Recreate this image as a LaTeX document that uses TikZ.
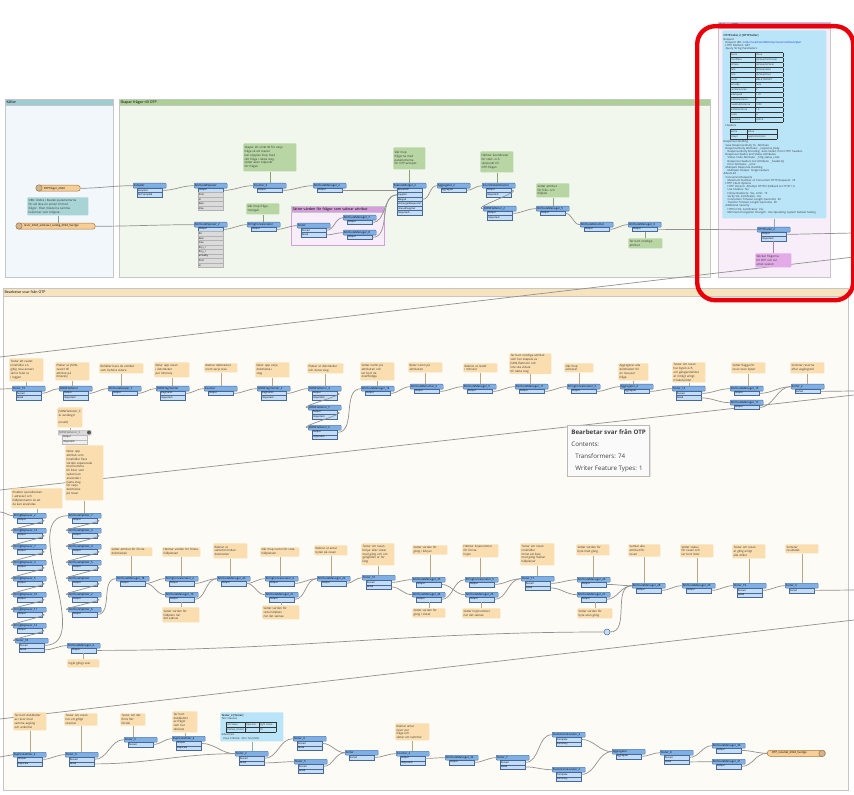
\documentclass[tikz,border=0pt]{standalone}
\usepackage{fontspec}
\setmainfont{Open Sans}
\usetikzlibrary{shadows}

\definecolor{tfhead}{RGB}{128,175,228}
\definecolor{tfport}{RGB}{196,220,244}
\definecolor{tfedge}{RGB}{70,105,155}
\definecolor{wirecol}{RGB}{145,145,145}
\definecolor{annor}{RGB}{250,222,176}
\definecolor{anngr}{RGB}{184,214,164}
\definecolor{anntl}{RGB}{168,212,214}
\definecolor{annbl}{RGB}{186,228,248}
\definecolor{annpk}{RGB}{226,170,230}
\definecolor{rdrcol}{RGB}{246,206,150}
\definecolor{rdredge}{RGB}{170,120,60}
\definecolor{bmKbg}{RGB}{241,247,251}
\definecolor{bmKhd}{RGB}{158,206,212}
\definecolor{bmGbg}{RGB}{242,247,238}
\definecolor{bmGhd}{RGB}{170,208,148}
\definecolor{bmPbg}{RGB}{248,238,249}
\definecolor{bmPhd}{RGB}{214,158,220}
\definecolor{bmBbg}{RGB}{253,251,245}
\definecolor{bmBhd}{RGB}{247,228,190}
\definecolor{linkblue}{RGB}{20,60,220}
\definecolor{markred}{RGB}{232,0,10}

\begin{document}
\begin{tikzpicture}[x=0.5pt, y=-0.5pt,
    tf/.style={draw=tfedge, fill=tfhead, line width=0.2pt, rounded corners=0.4pt,
      anchor=north west, inner sep=0.3pt, minimum width=16.5pt, minimum height=2.5pt,
      text width=15.9pt, font=\fontsize{1.4}{1.6}\selectfont},
    tfoff/.style={tf, draw=gray!60, fill=gray!30, text=gray!60!black},
    port/.style={draw=tfedge, fill=tfport, line width=0.15pt, anchor=north west,
      inner sep=0.3pt, minimum width=12.5pt, minimum height=2.25pt,
      text width=11.9pt, font=\fontsize{1.2}{1.4}\selectfont},
    portoff/.style={port, draw=gray!55, fill=gray!12},
    attr/.style={port, draw=gray!60, fill=gray!28},
    wire/.style={draw=wirecol, line width=0.35pt},
    ann/.style={anchor=north west, inner sep=0.6pt, rounded corners=0.4pt,
      font=\fontsize{1.45}{1.9}\selectfont, text=black!80, align=left},
    anntail/.style={draw=#1!75!black, line width=0.4pt},
    rdr/.style={anchor=north west, fill=rdrcol, draw=rdredge, line width=0.25pt,
      rounded corners=1.4pt, inner sep=0.3pt, minimum height=3pt,
      font=\fontsize{1.4}{1.6}\selectfont, align=left},
    rdricon/.style={circle, fill=rdredge!55, draw=rdredge, line width=0.25pt,
      minimum size=3.2pt, inner sep=0pt},
    bm/.style={anchor=north west, draw=gray!45, line width=0.3pt, inner sep=0pt},
    bmhead/.style={anchor=north west, draw=gray!45, line width=0.3pt, inner sep=0.6pt,
      minimum height=3pt, font=\fontsize{1.8}{2}\selectfont, align=left},
    tip/.style={anchor=north west, draw=gray!55, fill=gray!4, line width=0.4pt,
      inner xsep=2pt, inner ysep=2pt, align=left, text=black!75,
      font=\fontsize{3.1}{6}\selectfont,
      drop shadow={opacity=0.2, shadow xshift=0.7pt, shadow yshift=-0.7pt}}]

  \useasboundingbox (0,0) rectangle (854,795);
  \fill[white] (0,0) rectangle (854,795);

  % bookmarks
  \node[bm, fill=bmKbg, minimum width=54pt, minimum height=89pt] (bmK) at (5,99) {};
  \node[bmhead, fill=bmKhd, text width=52.8pt] (bmK-h) at (5,99) {Källor};
  \node[bm, fill=bmGbg, minimum width=295.5pt, minimum height=89pt] (bmG) at (119,99) {};
  \node[bmhead, fill=bmGhd, text width=294.3pt] (bmG-h) at (119,99) {Skapar frågor till OTP};
  \node[bm, fill=bmPbg, draw=bmPhd, minimum width=46.5pt, minimum height=19.5pt] (bmP) at (291,206) {};
  \node[bmhead, fill=bmPhd, text width=45.3pt] (bmP-h) at (291,206) {Sätter värden för frågor som saknar attribut};
  \node[bm, fill=bmPbg, minimum width=56pt, minimum height=127.5pt] (bmR) at (718,22) {};
  \node[bmhead, fill=bmPhd, text width=54.8pt] (bmR-h) at (718,22) {Frågar OTP};
  \node[bm, fill=bmBbg, minimum width=422.5pt, minimum height=251pt] (bmB) at (3,288) {};
  \node[bmhead, fill=bmBhd, minimum height=4pt, text width=421.3pt] (bmB-h) at (3,288) {Bearbetar svar från OTP};

  % long wires leaving and entering the view
  \coordinate (eT) at (854,233);
  \coordinate (e1r) at (854,257);
  \coordinate (e1l) at (0,357);
  \coordinate (lA) at (0,389);
  \coordinate (rA) at (854,391);
  \coordinate (e2r) at (854,395);
  \coordinate (e2l) at (0,490);
  \coordinate (lB) at (0,512);
  \coordinate (rB) at (854,590);
  \coordinate (e3r) at (854,620);
  \coordinate (e3l) at (0,719);
  \coordinate (lC) at (0,757);
  \draw[wire] (e1r) -- (e1l);
  \draw[wire] (e2r) -- (e2l);
  \draw[wire] (e3r) -- (e3l);

  % readers
  \node[rdr, minimum width=22pt, text width=21.4pt] (r1) at (36,185) {\hspace*{3.5pt}OTPfrågor\_2024};
  \node[rdricon] (r1-i) at (39,188) {};
  \node[rdr, minimum width=39.5pt, text width=38.9pt] (r2) at (16,223) {\hspace*{3.5pt}resor\_2024\_adresser\_salsbg\_2024\_Sverige};
  \node[rdricon] (r2-i) at (19,226) {};

  % transformers, top
  \foreach \n/\x/\y/\lab/\ports in {
      t1/133/183/Sampler/{Sampled,Not Sampled},
      t2/194/183/AttributeExposer/{Output},
      t3/253/183/Counter\_3/{Output},
      t4/313/183/AttributeManager\_2/{Output},
      t5/393/183/FeatureMerger\_2/{Requestor,Supplier,Merged,UnmergedRequestor,UnusedSupplier,<Rejected>},
      t6/194/222/AttributeExposer\_2/{Output},
      t7/247/222/StringConcatenator/{Output},
      t8/297/223/Tester/{Passed,Failed},
      t9/343/215/AttributeManager\_7/{Output},
      t10/343/230/AttributeManager\_8/{Output},
      t11/437/183/Aggregator\_2/{Aggregate},
      t12/482/183/CoordinateExtractor/{Output,<Rejected>},
      t13/483/206/JSONFlattener\_2/{Output,<Rejected>},
      t14/536/206/AttributeManager\_5/{Output},
      t15/580/222/AttributeRenamer/{Output},
      t16/628/222/AttributeManager\_3/{Output},
      h1/757/227/HTTPCaller\_2/{Output,<Rejected>}} {
    \node[tf] (\n) at (\x,\y) {\lab};
    \foreach \pl [count=\p] in \ports
      \node[port] (\n-\p) at (\x+4,{\y+0.5+4.5*\p}) {\pl};
  }
  \foreach \n/\x/\y/\attrs in {
      t2/194/192.5/{from,to,date,time},
      t6/194/231.5/{fid,date,time,fid\_x\_1,fid\_y\_1,arriveBy,from,to}}
    \foreach \al [count=\q] in \attrs
      \node[attr] (\n-a\q) at (\x+4,{\y+4.5*(\q-1)}) {\al};

  % transformers, row 1 of the bottom bookmark
  \foreach \n/\x/\y/\lab/\ports in {
      a1/12/386/Tester\_10/{Passed,Failed},
      a2/59/386/JSONFlattener/{Output,<Rejected>},
      a3/108/386/AttributeKeeper\_7/{Output},
      a4/156/386/JSONFragmenter/{Fragments,<Rejected>},
      a5/204/386/Counter/{Output},
      a6/257/386/JSONFragmenter\_2/{Fragments,<Rejected>},
      a7/308/386/JSONFlattener\_4/{Output,<Rejected>},
      a7b/308/405/JSONFlattener\_5/{Output,<Rejected>},
      a7c/308/425/JSONFlattener\_6/{Output,<Rejected>},
      a8/361/386/AttributeManager\_14/{Output},
      a9/410/384/AttributeRenamer\_2/{Output},
      a10/463/384/AttributeManager\_9/{Output},
      a11/515/384/AttributeManager\_11/{Output},
      a12/567/384/StringConcatenator\_3/{Output},
      a13/620/384/Aggregator\_4/{Aggregate},
      a14/672/386/Tester\_14/{Passed,Failed},
      a15/730/386/AttributeManager\_16/{Output},
      a15b/730/400/AttributeManager\_17/{Output},
      a16/791/384/Sorter\_2/{Sorted}} {
    \node[tf] (\n) at (\x,\y) {\lab};
    \foreach \pl [count=\p] in \ports
      \node[port] (\n-\p) at (\x+4,{\y+0.5+4.5*\p}) {\pl};
  }
  % disabled one
  \node[tfoff] (a2x) at (58,430) {JSONFlattener\_3};
  \node[portoff] (a2x-1) at (62,435) {Output};
  \node[portoff] (a2x-2) at (62,439.5) {<Rejected>};
  \node[circle, fill=black!65, inner sep=0pt, minimum size=2pt] (a2x-i) at (89,432.5) {};

  % transformers, row 2
  \foreach \n/\x/\y/\lab/\ports in {
      s1/13/513/StringReplacer\_2/{Output},
      s2/13/528/StringReplacer\_14/{Output},
      s3/13/544/StringReplacer\_7/{Output},
      s4/13/560/StringReplacer\_3/{Output},
      s5/13/576/StringReplacer\_5/{Output},
      s6/13/592/StringReplacer\_10/{Output},
      s7/13/607/StringReplacer\_11/{Output},
      s8/13/623/StringReplacer\_12/{Output},
      s9/15/638/Tester\_18/{Passed,Failed},
      p1/68/513/AttributeSplitter\_7/{Output},
      p2/68/528/AttributeSplitter\_3/{Output},
      p3/68/544/AttributeSplitter\_4/{Output},
      p4/68/560/AttributeSplitter\_5/{Output},
      p5/68/576/AttributeSplitter/{Output},
      p6/68/592/AttributeSplitter\_2/{Output},
      p7/68/607/AttributeSplitter\_6/{Output},
      m1/67/643/AttributeManager\_4/{Output},
      b1/116/576/AttributeManager\_18/{Output},
      b2/165/576/StringConcatenator\_2/{Output},
      b2b/165/592/AttributeManager\_19/{Output},
      b3/217/576/AttributeManager\_20/{Output},
      b4/265/576/StringConcatenator\_4/{Output},
      b4b/265/592/AttributeManager\_21/{Output},
      b5/317/576/AttributeManager\_22/{Output},
      b6/362/575/Tester\_16/{Passed,Failed},
      b7/412/577/AttributeManager\_23/{Output},
      b7b/412/592/AttributeManager\_24/{Output},
      b8/465/577/StringConcatenator\_5/{Output},
      b8b/465/592/AttributeManager\_25/{Output},
      b9/521/576/Tester\_17/{Passed,Failed},
      b10/577/577/AttributeManager\_26/{Output},
      b10b/577/592/AttributeManager\_27/{Output},
      b11/632/583/AttributeManager\_28/{Output},
      b12/682/583/AttributeManager\_29/{Output},
      b13/733/583/Tester\_19/{Passed,Failed},
      b14/785/583/Sorter\_3/{Sorted}} {
    \node[tf] (\n) at (\x,\y) {\lab};
    \foreach \pl [count=\p] in \ports
      \node[port] (\n-\p) at (\x+4,{\y+0.5+4.5*\p}) {\pl};
  }
  \node[circle, draw=tfedge, fill=tfport, line width=0.25pt, minimum size=3pt, inner sep=0pt] (j1) at (607,632) {};

  % transformers, row 3
  \foreach \n/\x/\y/\lab/\ports in {
      c1/13/752/DuplicateFilter\_2/{Unique,Duplicate},
      c2/65/752/Tester\_9/{Passed,Failed},
      c3/124/737/Tester\_3/{Passed},
      c4/172/736/DuplicateFilter\_4/{Unique,Duplicate},
      c5/235/751/Tester\_2/{Passed,Failed},
      c6/293/736/Tester\_4/{Passed,Failed},
      c6b/294/759/Tester\_5/{Passed,Failed},
      c7/345/750/Sorter/{Sorted},
      c8/396/751/Counter\_2/{Output,<Rejected>},
      c9/445/755/AttributeManager\_32/{Output},
      c10/496/755/Tester\_7/{Passed,Failed},
      c11/552/732/StatisticsCalculator\_2/{Complete,Summary},
      c11b/552/767/StatisticsCalculator\_3/{Complete,Summary},
      c12/612/749/Aggregator/{Aggregate},
      c13/660/750/Tester\_8/{Passed,Failed},
      c14/712/743/AttributeManager\_30/{Output},
      c14b/712/759/AttributeManager\_31/{Output}} {
    \node[tf] (\n) at (\x,\y) {\lab};
    \foreach \pl [count=\p] in \ports
      \node[port] (\n-\p) at (\x+4,{\y+0.5+4.5*\p}) {\pl};
  }
  % writer
  \node[rdr, minimum width=29pt, text width=28.4pt] (w1) at (767,750) {\hspace*{2pt}OTP\_resultat\_2024\_Sverige};
  \node[rdricon] (w1-i) at (822,753.5) {};

  % connections
  \foreach \src/\dst in {r1/t1, t1-1/t2, t2-1/t3, t3-1/t4, t4-1/t5-1, t9-1/t5-2,
      t10-1/t5-2, r2/t6, t6-1/t7, t7-1/t8, t8-1/t9, t8-2/t10, t5-3/t11, t11-1/t12,
      t12-1/t13, t13-1/t14, t14-1/t15, t15-1/t16, t16-1/h1,
      a1-1/a2, a2-1/a3, a3-1/a4, a4-1/a5, a5-1/a6, a6-1/a7, a7-1/a7b, a7b-1/a7c,
      a7c-1/a8, a8-1/a9, a9-1/a10, a10-1/a11, a11-1/a12, a12-1/a13, a13-1/a14,
      a14-1/a15, a14-2/a15b, a15-1/a16, a15b-1/a16,
      s1-1/s2, s2-1/s3, s3-1/s4, s4-1/s5, s5-1/s6, s6-1/s7, s7-1/s8, s8-1/s9,
      s9-1/p1, s9-2/m1, p1-1/p2, p2-1/p3, p3-1/p4, p4-1/p5, p5-1/p6, p6-1/p7,
      p7-1/b1, b1-1/b2, b1-1/b2b, b2-1/b3, b2b-1/b3, b3-1/b4, b3-1/b4b, b4-1/b5,
      b4b-1/b5, b5-1/b6, b6-1/b7, b6-2/b7b, b7-1/b8b, b7b-1/b8, b8-1/b9, b8b-1/b9,
      b9-1/b10, b9-2/b10b, b10-1/b11, b10b-1/b11, m1-1/j1, j1/b11, b11-1/b12,
      b12-1/b13, b13-1/b14,
      c1-1/c2, c2-1/c3, c2-2/c5, c3-1/c4, c4-1/c5, c5-1/c6, c5-2/c6b, c6-1/c7,
      c6b-1/c7, c7-1/c8, c8-1/c9, c9-1/c10, c10-1/c11, c10-2/c11b, c11-1/c12,
      c11b-1/c12, c12-1/c13, c13-1/c14, c13-2/c14b, c14-1/w1, c14b-1/w1}
    \draw[wire] (\src.east) to[out=0,in=180] (\dst.west);
  \draw[wire] (h1-1.east) -- (eT);
  \draw[wire] (a16-1.east) -- (rA);
  \draw[wire] (b14-1.east) -- (rB);
  \draw[wire] (lA) to[out=0,in=180] (a1.west);
  \draw[wire] (lB) to[out=0,in=180] (s1.west);
  \draw[wire] (lC) -- (c1.west);

  % annotations, orange
  \foreach \n/\x/\y/\w/\h/\txt in {
      n1/9/358/34/23/{Testar att svaret\\ innehåller en\\ giltig resa annars\\ skrivs felet ut\\ i loggen},
      n2/55/362/34/18/{Plattar ut JSON-\\ svaret till\\ attribut på\\ itinerary},
      n2x/57/407/25/20/{JSONFlattener\_3\\ är avstängd\\ \mbox{}\\ (ersatt)},
      n3/99/363/44/10/{Behåller bara de attribut\\ som behövs vidare},
      n4/154/362/35/15/{Delar upp resan\\ i delsträckor\\ per itinerary},
      n5/204/363/33/9/{Räknar delsträckor\\ inom varje resa},
      n6/255/362/34/15/{Delar upp varje\\ delsträcka i\\ steg},
      n7/307/363/36/10/{Plattar ut delsträckor\\ och deras steg},
      n8/360/362/34/18/{Sätter namn på\\ attributen och\\ tar bort de\\ överflödiga},
      n9/408/362/34/10/{Byter namn på\\ attributen},
      n10/463/363/34/9/{Räknar ut restid\\ i minuter},
      n11/509/353/42/20/{Tar bort onödiga attribut\\ som har skapats av\\ JSON-flattnern och\\ inte ska vidare\\ till nästa steg},
      n12/564/363/29/9/{Slår ihop\\ adresser},
      n13/618/363/30/17/{Aggregerar alla\\ delsträckor till\\ en resa per\\ fråga},
      n14/672/362/33/20/{Testar om resan\\ har byten och\\ om gångavståndet\\ är rimligt enligt\\ tröskelvärdet},
      n15/731/362/34/11/{Sätter flagga för\\ resor utan byten},
      n16/790/362/34/11/{Sorterar resorna\\ efter avgångstid},
      m0a/11/488/51/20/{Ersätter specialtecken\\ i adresser och\\ hållplatsnamn så att\\ de kan användas},
      m0b/65/445/38/55/{Delar upp\\ attribut som\\ innehåller flera\\ värden separerade\\ med komma\\ till listor som\\ sedan kan\\ användas i\\ nästa steg\\ för varje\\ delsträcka\\ på resan},
      m1n/67/659/32/8/{Inget giltigt svar},
      b1n/110/547/42/8/{Sätter attribut för första\\ delsträckan},
      b2n/162/547/38/8/{Hämtar värden för första\\ hållplatsen},
      b2bn/162/607/37/15/{Sätter värden för\\ hållplats när\\ det saknas},
      b3n/213/543/34/15/{Räknar ut\\ väntetid mellan\\ delsträckor},
      b4n/260/547/39/8/{Slår ihop namn för sista\\ hållplatsen},
      b4bn/262/605/37/14/{Sätter värden för\\ sista hållplats\\ när det saknas},
      b5n/314/545/33/10/{Räknar ut antal\\ byten på resan},
      b6n/361/543/33/22/{Testar om resan\\ börjar eller slutar\\ med gång och om\\ gångtiden är för\\ lång},
      b7n/412/545/35/8/{Sätter värden för\\ gång i början},
      b7bn/412/608/33/9/{Sätter värden för\\ gång i slutet},
      b8n/462/544/36/11/{Hämtar linjenummer\\ för första\\ linjen},
      b8bn/462/608/38/10/{Sätter linjenummer\\ när det saknas},
      b9n/520/543/34/22/{Testar om resan\\ innehåller\\ minst ett byte\\ med gång mellan\\ hållplatser},
      b10n/576/544/33/11/{Sätter värden för\\ byte med gång},
      b10bn/577/608/35/10/{Sätter värden för\\ byte utan gång},
      b11n/628/544/32/11/{Samlar alla\\ attribut för\\ resan},
      b12n/680/544/33/13/{Sätter status\\ för resan och\\ tar bort listor},
      b13n/732/544/33/14/{Testar om resan\\ är giltig enligt\\ alla villkor},
      b14n/785/544/33/9/{Sorterar\\ resultatet},
      c1n/13/712/33/18/{Tar bort dubbletter\\ av resor med\\ samma avgång\\ och ankomst},
      c2n/64/713/33/12/{Testar om resan\\ har ett giltigt\\ resultat},
      c3n/120/713/25/12/{Testar om det\\ finns fler\\ försök},
      c4n/172/711/25/21/{Tar bort\\ dubbletter\\ av frågor\\ som har\\ skickats},
      c8n/395/723/34/17/{Räknar antal\\ resor per\\ fråga och\\ sätter ett nummer}}
    \node[ann, fill=annor, minimum width=\w*0.5pt, minimum height=\h*0.5pt,
      text width=\w*0.5pt-1.2pt] (\n) at (\x,\y) {\txt};

  % annotations, green and others
  \foreach \n/\x/\y/\w/\h/\txt in {
      gA1/243/143/53/28/{Skapar ett unikt ID för varje\\ fråga så att svaren\\ kan kopplas ihop med\\ rätt fråga i nästa steg.\\ Sätter även tidpunkt\\ för frågan},
      gA2/246/203/33/11/{Slår ihop fråge-\\ strängen},
      gA3/393/147/32/22/{Slår ihop\\ frågorna med\\ parametrarna\\ för OTP-anropet},
      gA4/480/151/33/21/{Hämtar koordinater\\ för start- och\\ slutpunkt till\\ OTP-frågan},
      gA5/536/183/33/14/{Sätter attribut\\ för från- och\\ tillplats},
      gA6/628/238/34/10/{Tar bort onödiga\\ attribut}}
    \node[ann, fill=anngr, minimum width=\w*0.5pt, minimum height=\h*0.5pt,
      text width=\w*0.5pt-1.2pt] (\n) at (\x,\y) {\txt};
  \node[ann, fill=anntl, minimum width=30.5pt, minimum height=9pt, text width=29.3pt] (kA1) at (27,197)
    {OBS: Ändra i Reader-parametrarna\\ för att läsa en annan fil med\\ frågor. Filen måste ha samma\\ kolumner som tidigare.};
  \node[ann, fill=annpk, minimum width=18pt, minimum height=7pt, text width=16.8pt] (pA2) at (755,253)
    {Skickar frågorna\\ till OTP och tar\\ emot svaren};

  % summary annotation of the HTTPCaller
  \node[ann, fill=annbl, minimum width=52pt, minimum height=94pt, text width=50.8pt,
      font=\fontsize{1.35}{1.6}\selectfont] (hA) at (722,30) {%
    \textbf{HTTPCaller\_2 [HTTPCaller]}\\
    Request\\
    \hspace*{1pt}Request URL: {\color{linkblue}http://localhost:8080/otp/routers/default/plan}\\
    \hspace*{1pt}HTTP Method: GET\\
    \hspace*{1pt}Query String Parameters\\
    \hspace*{3pt}{\fontsize{1.2}{1.6}\selectfont\setlength\tabcolsep{0.4pt}%
      \setlength\arrayrulewidth{0.1pt}\renewcommand\arraystretch{1.5}%
      \begin{tabular}{|p{12pt}|p{13pt}|}\hline
      Name & Value\\\hline
      fromPlace & @Value(fromPlace)\\\hline
      toPlace & @Value(toPlace)\\\hline
      date & @Value(date)\\\hline
      time & @Value(time)\\\hline
      mode & WALK,TRANSIT\\\hline
      arriveBy & false\\\hline
      numItineraries & 3\\\hline
      walkSpeed & 1.33\\\hline
      walkReluctance & 2\\\hline
      maxWalkDistance & 1000\\\hline
      waitReluctance & 1.5\\\hline
      locale & sv\\\hline
      optimize & QUICK\\\hline
      \end{tabular}}\\
    \hspace*{1pt}Headers\\
    \hspace*{3pt}{\fontsize{1.2}{1.6}\selectfont\setlength\tabcolsep{0.4pt}%
      \setlength\arrayrulewidth{0.1pt}\renewcommand\arraystretch{1.5}%
      \begin{tabular}{|p{8pt}|p{14pt}|}\hline
      Name & Value\\\hline
      Accept & application/json\\\hline
      \end{tabular}}\\
    Response Handling\\
    \hspace*{1pt}Save Response Body To: Attribute\\
    \hspace*{1pt}Response Body Attribute: \_response\_body\\
    \hspace*{2pt}Response Body Encoding: Auto Detect from HTTP headers\\
    \hspace*{1pt}Response Header and Status Attributes\\
    \hspace*{2pt}Status Code Attribute: \_http\_status\_code\\
    \hspace*{2pt}Response Headers List Attribute: \_headers\{\}\\
    \hspace*{2pt}Error Attribute: \_error\\
    \hspace*{1pt}Multipart Response Handling\\
    \hspace*{2pt}Multipart Output: Single Feature\\
    Advanced\\
    \hspace*{1pt}Concurrent Requests\\
    \hspace*{2pt}Maximum Number of Concurrent HTTP Requests: 25\\
    \hspace*{1pt}HTTP Client Options\\
    \hspace*{2pt}HTTP Version: Attempt HTTP/2 (fallback to HTTP/1.1)\\
    \hspace*{2pt}Use Cookies: No\\
    \hspace*{2pt}Follow Redirects: Yes, Limit: 10\\
    \hspace*{2pt}Verify SSL Certificates: Yes\\
    \hspace*{2pt}Connection Timeout Length (seconds): 60\\
    \hspace*{2pt}Transfer Timeout Length (seconds): 90\\
    \hspace*{1pt}Additional Security\\
    \hspace*{2pt}HTTP/2 SSL Certificates: Yes\\
    \hspace*{2pt}Minimum Encryption Strength: Use Operating System Default Setting};

  % summary annotation of Tester_2
  \node[ann, fill=annbl, minimum width=31.5pt, minimum height=14.5pt, text width=30.3pt,
      font=\fontsize{1.35}{1.6}\selectfont] (cA) at (220,712) {%
    \textbf{Tester\_2 [Tester]}\\
    Test Clauses\\
    \hspace*{2pt}{\fontsize{1.2}{1.6}\selectfont\setlength\tabcolsep{0.4pt}%
      \setlength\arrayrulewidth{0.1pt}\renewcommand\arraystretch{1.5}%
      \begin{tabular}{|p{9pt}|p{6pt}|p{8pt}|}\hline
      Left Value & Operator & Right Value\\\hline
      @Value(\_status) & = & OK\\\hline
      \end{tabular}}\\
    Advanced\\
    \hspace*{1pt}Pass Criteria: One Test (OR)};

  % annotation tails
  \foreach \src/\dst in {n1/a1, n2/a2, n2x/a2x, n3/a3, n4/a4, n5/a5, n6/a6, n7/a7,
      n8/a8, n9/a9, n10/a10, n11/a11, n12/a12, n13/a13, n14/a14, n15/a15, n16/a16,
      m0a/s1, m0b/p1, b1n/b1, b2n/b2, b3n/b3, b4n/b4, b5n/b5, b6n/b6, b7n/b7,
      b8n/b8, b9n/b9, b10n/b10, b11n/b11, b12n/b12, b13n/b13, b14n/b14,
      c1n/c1, c2n/c2, c3n/c3, c4n/c4, c8n/c8}
    \draw[anntail=annor] (\src.south) -- (\src.south |- \dst.north);
  \foreach \src/\dst in {m1n/m1-1, b2bn/b2b-1, b4bn/b4b-1, b7bn/b7b-1, b8bn/b8b-1, b10bn/b10b-1}
    \draw[anntail=annor] (\src.north) -- (\src.north |- \dst.south);
  \foreach \src/\dst in {gA1/t3, gA2/t7, gA3/t5, gA4/t12, gA5/t14}
    \draw[anntail=anngr] (\src.south) -- (\src.south |- \dst.north);
  \draw[anntail=anngr] (gA6.north) -- (gA6.north |- t16-1.south);
  \draw[anntail=anntl] (kA1.south) -- (kA1.south |- r2.north);
  \draw[anntail=annbl] (hA.south) -- (hA.south |- h1.north);
  \draw[anntail=annbl] (cA.south) -- (cA.south |- c5.north);
  \draw[anntail=annpk] (pA2.north) -- (pA2.north |- h1-2.south);

  % tooltip
  \node[tip] (tip) at (567,425) {\textbf{Bearbetar svar från OTP}\\ Contents:\\
    \hspace*{2pt}Transformers: 74\\ \hspace*{2pt}Writer Feature Types: 1};

  % red marking
  \node[anchor=north west, draw=markred, line width=2.2pt, rounded corners=9pt,
    minimum width=78pt, minimum height=137pt, inner sep=0pt] (focus) at (695,24) {};

\end{tikzpicture}
\end{document}
